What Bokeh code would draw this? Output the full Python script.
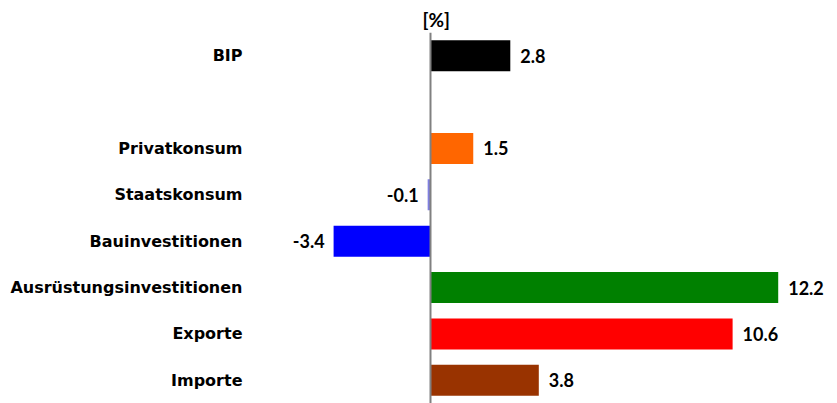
from bokeh.plotting import figure
from bokeh.models import ColumnDataSource, FactorRange, Span
from bokeh.core.properties import value
from bokeh.embed import file_html
from bokeh.resources import INLINE

# ---- data ----
categories = ["BIP", "Privatkonsum", "Staatskonsum", "Bauinvestitionen",
              "Ausrüstungsinvestitionen", "Exporte", "Importe"]
values = [2.8, 1.5, -0.1, -3.4, 12.2, 10.6, 3.8]
colors = ["#000000", "#FF6600", "#8080E0", "#0000FF", "#008000", "#FF0000", "#993300"]
value_labels = ["2.8", "1.5", "-0.1", "-3.4", "12.2", "10.6", "3.8"]
unit_label = "[%]"

# factor order top -> bottom, with an empty spacer row after BIP
factors = ["BIP", " "] + categories[1:]

src = ColumnDataSource(dict(
    cat=categories,
    val=values,
    color=colors,
    lab=value_labels,
    align=["left" if v >= 0 else "right" for v in values],
    off=[10 if v >= 0 else -9 for v in values],
))

p = figure(width=837, height=403, output_backend="svg", toolbar_location=None,
           y_range=FactorRange(factors=list(reversed(factors))),
           x_range=(-6.14, 14.28),
           min_border_left=255, min_border_right=0,
           min_border_top=32, min_border_bottom=0,
           background_fill_color="white", border_fill_color="white",
           title=unit_label)
p.outline_line_color = None
p.grid.visible = False
p.xaxis.visible = False

p.title.align = "left"
p.title.offset = 167
p.title.standoff = 3
p.title.text_font = "Lato"
p.title.text_font_style = "bold"
p.title.text_font_size = "19px"
p.title.text_color = "black"

p.hbar(y="cat", right="val", left=0, height=0.67, fill_color="color",
       line_color=None, source=src)

p.add_layout(Span(location=0, dimension="height", line_color="#808080", line_width=2))

p.text(x="val", y="cat", text="lab", x_offset="off", text_align="align",
       text_baseline="middle", text_font=value("Lato"), text_font_style="bold",
       text_font_size="18px", text_color="black", source=src)

ya = p.yaxis[0]
ya.axis_line_color = None
ya.major_tick_line_color = None
ya.minor_tick_line_color = None
ya.major_label_standoff = 7
ya.major_label_text_font = "DejaVu Sans"
ya.major_label_text_font_style = "bold"
ya.major_label_text_font_size = "16px"
ya.major_label_text_color = "black"

open("out.html", "w").write(file_html(p, INLINE))
